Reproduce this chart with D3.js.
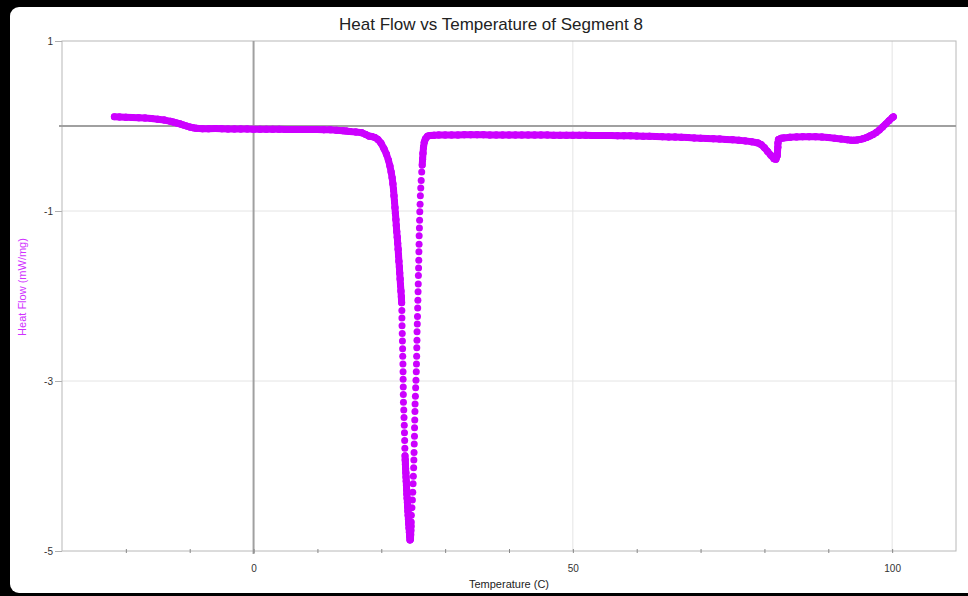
<!DOCTYPE html>
<html>
<head>
<meta charset="utf-8">
<script src="https://cdn.jsdelivr.net/npm/d3@7"></script>
<style>
  body { margin: 0; background: #fff; }
  svg { display: block; font-family: "Liberation Sans", Arial, sans-serif; }
</style>
</head>
<body>
<svg id="chart"></svg>
<script>
// [temperature (C), heat flow (mW/mg)], in time order
const preMelt = [
  [-21.8, 0.11], [-21, 0.107], [-20, 0.104], [-19, 0.1], [-18, 0.097], [-17, 0.093],
  [-16, 0.088], [-15, 0.08], [-14, 0.07], [-13, 0.055], [-12.5, 0.045], [-12, 0.035],
  [-11.5, 0.025], [-11, 0.012], [-10.5, 0.0], [-10, -0.012], [-9.5, -0.02], [-9, -0.027],
  [-8, -0.032], [-7, -0.033], [-6, -0.03], [-5, -0.033], [-4, -0.035], [-3, -0.035],
  [-2, -0.035], [-1, -0.036], [0, -0.037], [1, -0.037], [2, -0.038], [3, -0.038],
  [4, -0.039], [5, -0.04], [6, -0.04], [7, -0.04], [8, -0.041], [9, -0.042],
  [10, -0.042], [11, -0.043], [12, -0.045], [13, -0.05], [14, -0.057], [14.5, -0.06]
];
const meltDown = [
  [15.07, -0.065], [16.01, -0.07], [16.95, -0.08], [17.58, -0.1], [18.05, -0.118], [18.52, -0.124],
  [19.0, -0.135], [19.47, -0.159], [19.94, -0.2], [20.41, -0.265], [20.8, -0.33], [21.11, -0.4],
  [21.35, -0.47], [21.54, -0.54], [21.7, -0.61], [21.82, -0.68], [21.92, -0.75], [21.99, -0.82],
  [22.07, -0.89], [22.14, -0.96], [22.21, -1.03], [22.29, -1.1], [22.35, -1.17], [22.42, -1.24],
  [22.5, -1.31], [22.57, -1.38], [22.64, -1.45], [22.7, -1.52], [22.76, -1.59], [22.83, -1.66],
  [22.89, -1.73], [22.95, -1.8], [23.01, -1.87], [23.08, -1.94], [23.14, -2.01], [23.19, -2.08],
  [23.22, -2.17], [23.23, -2.26], [23.25, -2.35], [23.28, -2.44], [23.31, -2.53], [23.34, -2.62],
  [23.36, -2.71], [23.39, -2.8], [23.41, -2.89], [23.42, -2.98], [23.44, -3.07], [23.45, -3.16],
  [23.47, -3.25], [23.52, -3.34], [23.56, -3.43], [23.6, -3.52], [23.63, -3.61], [23.66, -3.7],
  [23.69, -3.79], [23.72, -3.88], [23.75, -3.93], [23.78, -3.98], [23.81, -4.03], [23.85, -4.08],
  [23.88, -4.13], [23.91, -4.18], [23.94, -4.23], [23.98, -4.28], [24.01, -4.33], [24.05, -4.38],
  [24.09, -4.43], [24.13, -4.48], [24.17, -4.53], [24.21, -4.58], [24.25, -4.63], [24.3, -4.68],
  [24.35, -4.73], [24.4, -4.78], [24.45, -4.83], [24.5, -4.87]
];
const meltUp = [
  [24.57, -4.86], [24.6, -4.81], [24.62, -4.76], [24.64, -4.71], [24.66, -4.66], [24.71, -4.58],
  [24.8, -4.49], [24.87, -4.4], [24.93, -4.31], [24.98, -4.21], [25.02, -4.12], [25.07, -4.02],
  [25.1, -3.93], [25.13, -3.84], [25.16, -3.74], [25.2, -3.65], [25.21, -3.55], [25.24, -3.46],
  [25.27, -3.36], [25.29, -3.27], [25.34, -3.18], [25.38, -3.08], [25.43, -2.99], [25.48, -2.89],
  [25.51, -2.8], [25.54, -2.71], [25.56, -2.61], [25.59, -2.52], [25.6, -2.42], [25.64, -2.33],
  [25.67, -2.24], [25.7, -2.14], [25.73, -2.05], [25.76, -1.95], [25.79, -1.86], [25.81, -1.76],
  [25.84, -1.67], [25.87, -1.58], [25.89, -1.48], [25.92, -1.39], [25.93, -1.29], [25.97, -1.2],
  [26.0, -1.11], [26.03, -1.01], [26.08, -0.92], [26.12, -0.82], [26.18, -0.73], [26.25, -0.64],
  [26.33, -0.54], [26.41, -0.46], [26.47, -0.39], [26.53, -0.32], [26.61, -0.25], [26.73, -0.19],
  [26.92, -0.15], [27.24, -0.12], [27.63, -0.113], [28.26, -0.108]
];
const postMelt = [
  [29, -0.106], [30, -0.105], [31, -0.105], [32, -0.105], [33, -0.104], [34, -0.104],
  [35, -0.104], [36, -0.104], [37, -0.105], [38, -0.105], [39, -0.105], [40, -0.105],
  [41, -0.106], [42, -0.106], [43, -0.106], [44, -0.107], [45, -0.107], [46, -0.107],
  [47, -0.108], [48, -0.108], [49, -0.108], [50, -0.109], [51, -0.11], [52, -0.11],
  [53, -0.111], [54, -0.112], [55, -0.112], [56, -0.113], [57, -0.114], [58, -0.115],
  [59, -0.116], [60, -0.118], [61, -0.12], [62, -0.122], [63, -0.124], [64, -0.126],
  [65, -0.128], [66, -0.13], [67, -0.133], [68, -0.136], [69, -0.14], [70, -0.143],
  [71, -0.146], [72, -0.15], [73, -0.154], [74, -0.158], [75, -0.163], [76, -0.168],
  [77, -0.175], [78, -0.185], [79, -0.2], [79.5, -0.22], [80, -0.255], [80.5, -0.3],
  [81, -0.345], [81.5, -0.385], [81.8, -0.39], [82, -0.35], [82.05, -0.3], [82.1, -0.25],
  [82.12, -0.2], [82.2, -0.16], [82.6, -0.145], [83, -0.14], [84, -0.133], [85, -0.128],
  [86, -0.126], [87, -0.126], [88, -0.127], [89, -0.13], [90, -0.136], [91, -0.143],
  [92, -0.152], [93, -0.162], [93.6, -0.168], [94, -0.168], [94.5, -0.165], [95, -0.158],
  [95.5, -0.148], [96, -0.135], [96.5, -0.118], [97, -0.1], [97.5, -0.076], [98, -0.046],
  [98.5, -0.012], [99, 0.025], [99.5, 0.062], [100, 0.097], [100.2, 0.108]
];

const xMajorTicks = [0, 50, 100];
const xMinorTicks = [-20, -10, 10, 20, 30, 40, 60, 70, 80, 90];
const yTicks = [1, -1, -3, -5];
const titleText = 'Heat Flow vs Temperature of Segment 8';
const xLabel = 'Temperature (C)';
const yLabel = 'Heat Flow (mW/mg)';

function main() {
  const width = 968;
  const height = 596;
  const plot = { left: 62, right: 956, top: 41, bottom: 551 };
  const dotColor = '#cc00ff';
  const dotRadius = 3.5;

  const svg = d3.select('#chart')
    .attr('width', width)
    .attr('height', height);

  // window frame of the screenshot
  svg.append('rect').attr('width', width).attr('height', height).attr('fill', '#000');
  svg.append('rect')
    .attr('x', 10).attr('y', 7)
    .attr('width', width + 20).attr('height', 586)
    .attr('rx', 9)
    .attr('fill', '#fff');

  const x = d3.scaleLinear().domain([-30, 110]).range([plot.left, plot.right]);
  const y = d3.scaleLinear().domain([1, -5]).range([plot.top, plot.bottom]);

  // grid
  svg.selectAll('.hgrid')
    .data(yTicks.filter(d => d !== -5 && d !== 1))
    .join('line')
    .attr('x1', plot.left).attr('x2', plot.right)
    .attr('y1', d => y(d)).attr('y2', d => y(d))
    .attr('stroke', '#e4e4e4');

  svg.selectAll('.vgrid')
    .data(xMajorTicks.filter(d => d !== 0))
    .join('line')
    .attr('x1', d => x(d)).attr('x2', d => x(d))
    .attr('y1', plot.top).attr('y2', plot.bottom)
    .attr('stroke', '#e4e4e4');

  // plot frame
  svg.append('rect')
    .attr('x', plot.left).attr('y', plot.top)
    .attr('width', plot.right - plot.left).attr('height', plot.bottom - plot.top)
    .attr('fill', 'none')
    .attr('stroke', '#b8b8b8');

  // zero lines
  svg.append('line')
    .attr('x1', plot.left - 3).attr('x2', plot.right)
    .attr('y1', y(0)).attr('y2', y(0))
    .attr('stroke', '#a0a0a0').attr('stroke-width', 2);
  svg.append('line')
    .attr('x1', x(0)).attr('x2', x(0))
    .attr('y1', plot.top).attr('y2', plot.bottom + 3)
    .attr('stroke', '#a0a0a0').attr('stroke-width', 2);

  // y axis
  const yAxis = svg.append('g')
    .attr('transform', `translate(${plot.left},0)`)
    .call(d3.axisLeft(y).tickValues(yTicks).tickSize(7).tickPadding(2).tickFormat(d => String(d)));
  yAxis.select('.domain').remove();
  yAxis.selectAll('.tick line').attr('stroke', '#b0b0b0');
  yAxis.selectAll('.tick text').attr('fill', '#333').style('font-size', '10px');

  // x axis
  const xAxis = svg.append('g')
    .attr('transform', `translate(0,${plot.bottom - 2})`)
    .call(d3.axisBottom(x)
      .tickValues(xMinorTicks.concat(xMajorTicks))
      .tickSize(4).tickPadding(12)
      .tickFormat(d => xMajorTicks.includes(d) ? String(d) : ''));
  xAxis.select('.domain').remove();
  xAxis.selectAll('.tick line').attr('stroke', '#888');
  xAxis.selectAll('.tick text').attr('fill', '#333').style('font-size', '10px');

  // data: thick trace where samples are close, separate dots elsewhere
  const points = preMelt.concat(meltDown, meltUp, postMelt)
    .map(d => ({ px: x(d[0]), py: y(d[1]) }));

  const segments = [];
  for (let i = 1; i < points.length; i++) {
    const a = points[i - 1], b = points[i];
    if (Math.hypot(b.px - a.px, b.py - a.py) < 6.6) segments.push([a, b]);
  }

  svg.append('g').selectAll('line')
    .data(segments)
    .join('line')
    .attr('x1', d => d[0].px).attr('y1', d => d[0].py)
    .attr('x2', d => d[1].px).attr('y2', d => d[1].py)
    .attr('stroke', dotColor)
    .attr('stroke-width', dotRadius * 2)
    .attr('stroke-linecap', 'round');

  svg.append('g').selectAll('circle')
    .data(points)
    .join('circle')
    .attr('cx', d => d.px)
    .attr('cy', d => d.py)
    .attr('r', dotRadius)
    .attr('fill', dotColor);

  // titles
  svg.append('text')
    .attr('x', 491).attr('y', 30)
    .attr('text-anchor', 'middle')
    .attr('fill', '#222')
    .style('font-size', '17px')
    .text(titleText);

  svg.append('text')
    .attr('x', (plot.left + plot.right) / 2).attr('y', 588)
    .attr('text-anchor', 'middle')
    .attr('fill', '#222')
    .style('font-size', '11px')
    .text(xLabel);

  svg.append('text')
    .attr('transform', `translate(26,${287}) rotate(-90)`)
    .attr('text-anchor', 'middle')
    .attr('fill', '#d030ff')
    .style('font-size', '11px')
    .text(yLabel);
}

main();
</script>
</body>
</html>
